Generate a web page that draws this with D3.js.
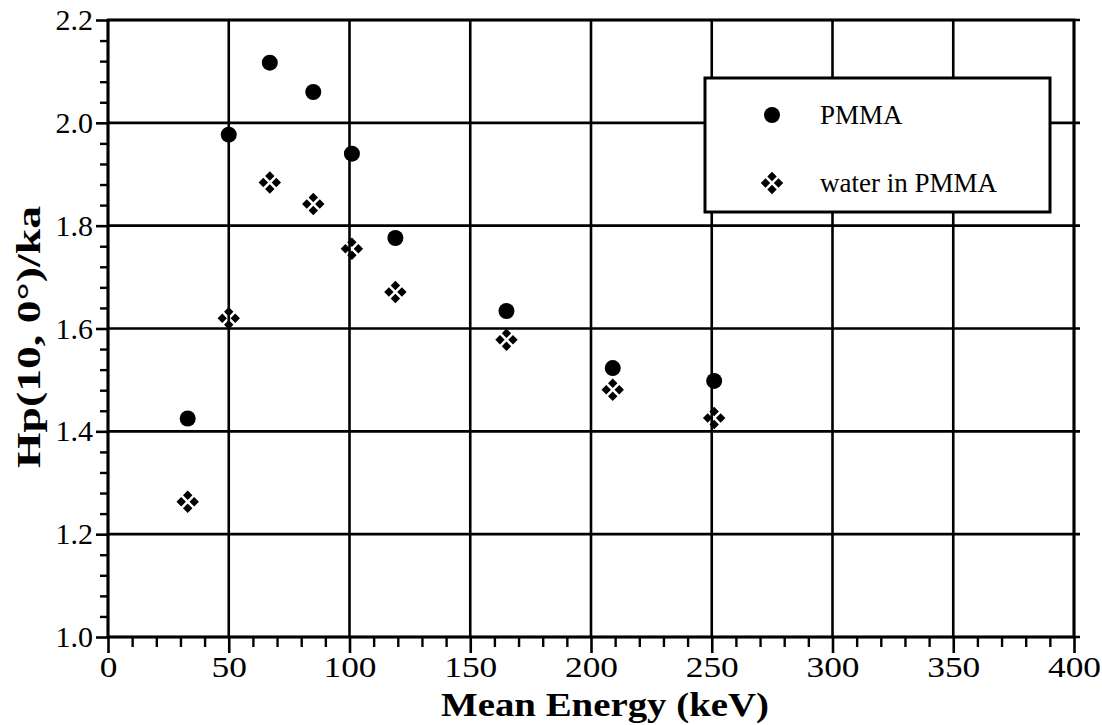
<!DOCTYPE html>
<html>
<head>
<meta charset="utf-8">
<script src="https://cdn.jsdelivr.net/npm/d3@7"></script>
<style>
  html, body { margin: 0; padding: 0; background: #fff; }
  svg { display: block; }
  text { font-family: "Liberation Serif", "Times New Roman", serif; fill: #000; }
</style>
</head>
<body>
<svg id="chart" width="1102" height="725"></svg>
<script>
// ---- data ----
const energy = [33, 50, 67, 85, 101, 119, 165, 209, 251];
const pmma = [1.425, 1.977, 2.117, 2.060, 1.940, 1.776, 1.634, 1.523, 1.498];
const waterInPmma = [1.263, 1.620, 1.884, 1.842, 1.755, 1.671, 1.578, 1.481, 1.426];
const seriesNames = ["PMMA", "water in PMMA"];
const xTicks = [0, 50, 100, 150, 200, 250, 300, 350, 400];
const yTicks = [1.0, 1.2, 1.4, 1.6, 1.8, 2.0, 2.2];
const xLabel = "Mean Energy (keV)";
const yLabel = "Hp(10, 0°)/ka";

(function () {
// ---- layout ----
const pL = 108, pR = 1074, pT = 20, pB = 637;
const FONT = '"Liberation Serif", "Times New Roman", serif';
const svg = d3.select("#chart");

const x = d3.scaleLinear().domain([0, 400]).range([pL, pR]);
const y = d3.scaleLinear().domain([1.0, 2.2]).range([pB, pT]);

const xMinor = d3.range(0, 401, 10).filter(v => v % 50 !== 0);
const yMinor = d3.range(0, 31).map(i => +(1.0 + i * 0.04).toFixed(2)).filter(v => Math.abs(v * 5 - Math.round(v * 5)) > 1e-6);

// gridlines
const grid = svg.append("g").attr("stroke", "#000").attr("stroke-width", 2.6);
grid.selectAll("line.v").data(xTicks).join("line").attr("class", "v")
  .attr("x1", d => x(d)).attr("x2", d => x(d)).attr("y1", pT).attr("y2", pB);
grid.selectAll("line.h").data(yTicks).join("line").attr("class", "h")
  .attr("y1", d => y(d)).attr("y2", d => y(d)).attr("x1", pL).attr("x2", pR + 6);

// minor axes
svg.append("g").attr("transform", `translate(0,${pB})`)
  .call(d3.axisBottom(x).tickValues(xMinor).tickSize(10).tickFormat(""))
  .call(g => g.select(".domain").remove())
  .call(g => g.selectAll("line").attr("stroke-width", 2.4));
svg.append("g").attr("transform", `translate(${pL},0)`)
  .call(d3.axisLeft(y).tickValues(yMinor).tickSize(8).tickFormat(""))
  .call(g => g.select(".domain").remove())
  .call(g => g.selectAll("line").attr("stroke-width", 2.4));

// major axes
svg.append("g").attr("transform", `translate(0,${pB})`)
  .call(d3.axisBottom(x).tickValues(xTicks).tickSize(16).tickPadding(3).tickFormat(d3.format("d")))
  .call(g => g.select(".domain").remove())
  .call(g => g.selectAll("line").attr("stroke-width", 2.6))
  .call(g => g.selectAll("text").style("font-family", FONT).style("font-size", "30px")
    .attr("fill", "#000").attr("transform", "scale(1.18,1)"));
svg.append("g").attr("transform", `translate(${pL},0)`)
  .call(d3.axisLeft(y).tickValues(yTicks).tickSize(12).tickPadding(3).tickFormat(d3.format(".1f")))
  .call(g => g.select(".domain").remove())
  .call(g => g.selectAll("line").attr("stroke-width", 2.6))
  .call(g => g.selectAll("text").style("font-family", FONT).style("font-size", "30px").attr("fill", "#000"));

// border
svg.append("rect").attr("x", pL).attr("y", pT).attr("width", pR - pL).attr("height", pB - pT)
  .attr("fill", "none").attr("stroke", "#000").attr("stroke-width", 2.8);

// marker for water: four small diamonds
function clover(s, r) {
  const p = d3.path();
  [[0, -s], [s, 0], [0, s], [-s, 0]].forEach(([dx, dy]) => {
    p.moveTo(dx, dy - r); p.lineTo(dx + r, dy); p.lineTo(dx, dy + r); p.lineTo(dx - r, dy); p.closePath();
  });
  return p.toString();
}
const cloverPath = clover(6.5, 4.7);

// points
svg.append("g").selectAll("circle").data(energy.map((e, i) => [e, pmma[i]])).join("circle")
  .attr("cx", d => x(d[0])).attr("cy", d => y(d[1])).attr("r", 8).attr("fill", "#000");
svg.append("g").selectAll("path").data(energy.map((e, i) => [e, waterInPmma[i]])).join("path")
  .attr("transform", d => `translate(${x(d[0])},${y(d[1])})`).attr("d", cloverPath).attr("fill", "#000");

// legend
const lg = svg.append("g");
lg.append("rect").attr("x", 705).attr("y", 78).attr("width", 345).attr("height", 134)
  .attr("fill", "#fff").attr("stroke", "#000").attr("stroke-width", 3);
lg.append("circle").attr("cx", 772).attr("cy", 115).attr("r", 8).attr("fill", "#000");
lg.append("path").attr("transform", "translate(772,183)").attr("d", cloverPath).attr("fill", "#000");
lg.append("text").attr("x", 820).attr("y", 124).style("font-size", "27px").text(seriesNames[0]);
lg.append("text").attr("x", 820).attr("y", 192).style("font-size", "27px").text(seriesNames[1]);

// axis titles
svg.append("text").attr("x", 605).attr("y", 716).attr("text-anchor", "middle")
  .attr("textLength", 328).attr("lengthAdjust", "spacingAndGlyphs")
  .style("font-size", "33px").style("font-weight", "bold").text(xLabel);
svg.append("text").attr("transform", `translate(40,337) rotate(-90)`).attr("text-anchor", "middle")
  .attr("textLength", 262).attr("lengthAdjust", "spacingAndGlyphs")
  .style("font-size", "33px").style("font-weight", "bold").text(yLabel);
})();
</script>
</body>
</html>
